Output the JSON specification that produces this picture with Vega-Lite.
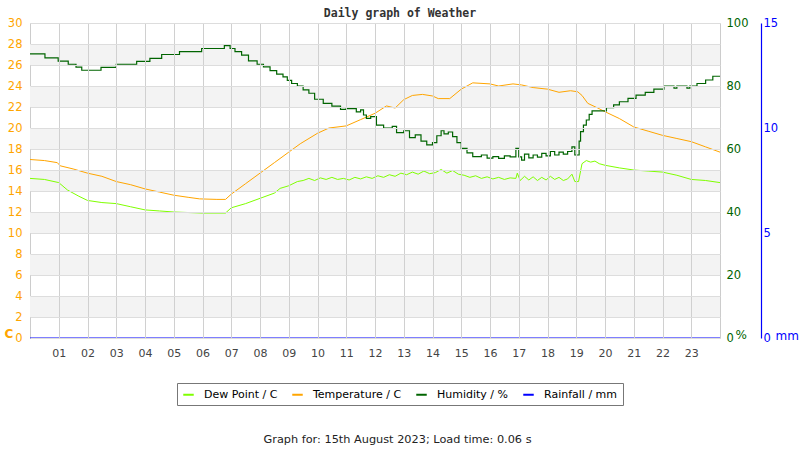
{
  "$schema": "https://vega.github.io/schema/vega-lite/v6.json",
  "width": 690,
  "height": 315,
  "autosize": {"type": "none"},
  "padding": {"left": 30, "top": 23, "right": 80, "bottom": 112},
  "background": "white",
  "title": {
    "text": "Daily graph of Weather",
    "font": "DejaVu Sans Mono",
    "fontSize": 11.5,
    "fontWeight": "bold",
    "color": "#333333",
    "offset": -2,
    "dx": 25,
    "anchor": "middle"
  },
  "datasets": {
    "bands": [
      {"lo": 2, "hi": 4}, {"lo": 6, "hi": 8}, {"lo": 10, "hi": 12}, {"lo": 14, "hi": 16},
      {"lo": 18, "hi": 20}, {"lo": 22, "hi": 24}, {"lo": 26, "hi": 28}
    ],
    "dew": [
      {"h": 0, "v": 15.2}, {"h": 0.5, "v": 15.1}, {"h": 1.0, "v": 14.8}, {"h": 1.3, "v": 14.1},
      {"h": 1.7, "v": 13.5}, {"h": 2.0, "v": 13.1}, {"h": 2.5, "v": 12.9}, {"h": 3.0, "v": 12.8},
      {"h": 3.5, "v": 12.5}, {"h": 4.0, "v": 12.2}, {"h": 4.5, "v": 12.1}, {"h": 5.0, "v": 12.0},
      {"h": 5.5, "v": 11.95}, {"h": 6.0, "v": 11.9}, {"h": 6.8, "v": 11.9}, {"h": 7.0, "v": 12.4},
      {"h": 7.5, "v": 12.8}, {"h": 8.0, "v": 13.3}, {"h": 8.5, "v": 13.8}, {"h": 8.7, "v": 14.25},
      {"h": 9.0, "v": 14.5}, {"h": 9.3, "v": 14.9}, {"h": 9.5, "v": 15.0}, {"h": 9.7, "v": 15.2},
      {"h": 9.9, "v": 15.0}, {"h": 10.1, "v": 15.25}, {"h": 10.3, "v": 15.1}, {"h": 10.5, "v": 15.3},
      {"h": 10.7, "v": 15.1}, {"h": 10.9, "v": 15.2}, {"h": 11.1, "v": 15.05}, {"h": 11.3, "v": 15.3},
      {"h": 11.5, "v": 15.15}, {"h": 11.7, "v": 15.35}, {"h": 11.9, "v": 15.2}, {"h": 12.1, "v": 15.45},
      {"h": 12.3, "v": 15.3}, {"h": 12.5, "v": 15.55}, {"h": 12.7, "v": 15.4}, {"h": 12.9, "v": 15.7},
      {"h": 13.1, "v": 15.55}, {"h": 13.3, "v": 15.8}, {"h": 13.5, "v": 15.6}, {"h": 13.7, "v": 15.9},
      {"h": 13.9, "v": 15.65}, {"h": 14.1, "v": 15.75}, {"h": 14.3, "v": 16.05}, {"h": 14.5, "v": 15.7},
      {"h": 14.7, "v": 15.95}, {"h": 14.9, "v": 15.6}, {"h": 15.1, "v": 15.5}, {"h": 15.3, "v": 15.3},
      {"h": 15.5, "v": 15.45}, {"h": 15.7, "v": 15.2}, {"h": 15.9, "v": 15.35}, {"h": 16.1, "v": 15.15},
      {"h": 16.3, "v": 15.3}, {"h": 16.5, "v": 15.1}, {"h": 16.7, "v": 15.25}, {"h": 16.9, "v": 15.2},
      {"h": 16.95, "v": 15.7}, {"h": 17.05, "v": 15.0}, {"h": 17.2, "v": 15.4}, {"h": 17.35, "v": 15.05},
      {"h": 17.5, "v": 15.35}, {"h": 17.65, "v": 15.0}, {"h": 17.8, "v": 15.3}, {"h": 17.95, "v": 15.05},
      {"h": 18.1, "v": 15.4}, {"h": 18.25, "v": 15.1}, {"h": 18.4, "v": 15.3}, {"h": 18.55, "v": 15.0},
      {"h": 18.7, "v": 15.15}, {"h": 18.85, "v": 15.6}, {"h": 18.95, "v": 14.9}, {"h": 19.08, "v": 14.9},
      {"h": 19.2, "v": 16.6}, {"h": 19.35, "v": 16.9}, {"h": 19.5, "v": 16.75}, {"h": 19.65, "v": 16.85},
      {"h": 19.8, "v": 16.6}, {"h": 20.0, "v": 16.45}, {"h": 20.5, "v": 16.2}, {"h": 21.0, "v": 16.0},
      {"h": 21.5, "v": 15.9}, {"h": 22.0, "v": 15.8}, {"h": 22.5, "v": 15.5}, {"h": 23.0, "v": 15.1},
      {"h": 23.5, "v": 15.0}, {"h": 24.0, "v": 14.8}
    ],
    "temp": [
      {"h": 0, "v": 17.0}, {"h": 0.5, "v": 16.9}, {"h": 0.95, "v": 16.7}, {"h": 1.05, "v": 16.4},
      {"h": 1.5, "v": 16.1}, {"h": 2.0, "v": 15.7}, {"h": 2.5, "v": 15.4}, {"h": 3.0, "v": 14.9},
      {"h": 3.5, "v": 14.6}, {"h": 4.0, "v": 14.2}, {"h": 4.5, "v": 13.9}, {"h": 5.0, "v": 13.6},
      {"h": 5.5, "v": 13.4}, {"h": 5.9, "v": 13.25}, {"h": 6.5, "v": 13.2}, {"h": 6.8, "v": 13.2},
      {"h": 7.0, "v": 13.7}, {"h": 7.5, "v": 14.7}, {"h": 8.0, "v": 15.7}, {"h": 8.5, "v": 16.7},
      {"h": 9.0, "v": 17.7}, {"h": 9.4, "v": 18.5}, {"h": 10.0, "v": 19.5}, {"h": 10.4, "v": 20.0},
      {"h": 11.0, "v": 20.2}, {"h": 11.5, "v": 20.8}, {"h": 12.0, "v": 21.4}, {"h": 12.4, "v": 22.1},
      {"h": 12.7, "v": 21.9}, {"h": 13.0, "v": 22.7}, {"h": 13.3, "v": 23.1}, {"h": 13.65, "v": 23.2},
      {"h": 14.0, "v": 23.05}, {"h": 14.2, "v": 22.8}, {"h": 14.6, "v": 22.8}, {"h": 15.0, "v": 23.7},
      {"h": 15.4, "v": 24.3}, {"h": 16.0, "v": 24.2}, {"h": 16.3, "v": 24.0}, {"h": 16.8, "v": 24.2},
      {"h": 17.1, "v": 24.1}, {"h": 17.5, "v": 23.85}, {"h": 18.0, "v": 23.7}, {"h": 18.4, "v": 23.4},
      {"h": 18.8, "v": 23.55}, {"h": 19.05, "v": 23.45}, {"h": 19.2, "v": 23.1}, {"h": 19.4, "v": 22.35},
      {"h": 19.75, "v": 21.9}, {"h": 20.0, "v": 21.55}, {"h": 20.5, "v": 20.9}, {"h": 21.0, "v": 20.1},
      {"h": 21.5, "v": 19.7}, {"h": 22.0, "v": 19.3}, {"h": 22.5, "v": 19.0}, {"h": 23.0, "v": 18.7},
      {"h": 23.5, "v": 18.2}, {"h": 24.0, "v": 17.7}
    ],
    "hum": [
      {"h": 0, "v": 90.2}, {"h": 0.52, "v": 88.9}, {"h": 0.98, "v": 87.9}, {"h": 1.33, "v": 86.9},
      {"h": 1.6, "v": 86.0}, {"h": 1.8, "v": 85.0}, {"h": 2.47, "v": 85.9}, {"h": 3.0, "v": 86.9},
      {"h": 3.71, "v": 87.8}, {"h": 4.17, "v": 88.8}, {"h": 4.58, "v": 90.0}, {"h": 5.2, "v": 90.9},
      {"h": 5.97, "v": 91.9}, {"h": 6.76, "v": 92.8}, {"h": 6.96, "v": 91.9}, {"h": 7.13, "v": 90.9},
      {"h": 7.36, "v": 89.8}, {"h": 7.6, "v": 88.0}, {"h": 7.9, "v": 86.9}, {"h": 8.12, "v": 86.1},
      {"h": 8.35, "v": 84.9}, {"h": 8.58, "v": 83.8}, {"h": 8.8, "v": 82.9}, {"h": 8.95, "v": 81.8},
      {"h": 9.1, "v": 80.8}, {"h": 9.3, "v": 80.0}, {"h": 9.5, "v": 78.8}, {"h": 9.7, "v": 77.7},
      {"h": 9.9, "v": 75.8}, {"h": 10.2, "v": 74.5}, {"h": 10.5, "v": 73.6}, {"h": 10.8, "v": 72.6},
      {"h": 11.0, "v": 72.8}, {"h": 11.35, "v": 71.8}, {"h": 11.5, "v": 72.4}, {"h": 11.6, "v": 70.8},
      {"h": 11.7, "v": 69.7}, {"h": 11.85, "v": 70.3}, {"h": 12.05, "v": 67.6}, {"h": 12.3, "v": 66.6},
      {"h": 12.6, "v": 67.2}, {"h": 12.75, "v": 65.2}, {"h": 13.0, "v": 65.8}, {"h": 13.2, "v": 63.6},
      {"h": 13.4, "v": 64.5}, {"h": 13.6, "v": 62.5}, {"h": 13.8, "v": 61.3}, {"h": 14.0, "v": 62.0},
      {"h": 14.15, "v": 64.2}, {"h": 14.3, "v": 65.8}, {"h": 14.4, "v": 64.8}, {"h": 14.55, "v": 65.4},
      {"h": 14.7, "v": 63.9}, {"h": 14.85, "v": 62.0}, {"h": 15.0, "v": 60.2}, {"h": 15.2, "v": 58.8},
      {"h": 15.4, "v": 57.6}, {"h": 15.7, "v": 58.1}, {"h": 15.9, "v": 57.1}, {"h": 16.1, "v": 57.6},
      {"h": 16.3, "v": 57.0}, {"h": 16.5, "v": 57.8}, {"h": 16.7, "v": 57.5}, {"h": 16.9, "v": 60.2},
      {"h": 17.0, "v": 57.5}, {"h": 17.1, "v": 56.5}, {"h": 17.2, "v": 58.4}, {"h": 17.35, "v": 57.2},
      {"h": 17.5, "v": 58.1}, {"h": 17.65, "v": 57.4}, {"h": 17.8, "v": 58.6}, {"h": 17.95, "v": 57.8},
      {"h": 18.1, "v": 59.2}, {"h": 18.25, "v": 58.1}, {"h": 18.4, "v": 59.0}, {"h": 18.55, "v": 58.4},
      {"h": 18.7, "v": 59.2}, {"h": 18.85, "v": 60.7}, {"h": 18.95, "v": 58.1}, {"h": 19.1, "v": 62.5},
      {"h": 19.15, "v": 65.5}, {"h": 19.25, "v": 67.6}, {"h": 19.35, "v": 69.2}, {"h": 19.45, "v": 71.0},
      {"h": 19.55, "v": 72.1}, {"h": 20.05, "v": 73.1}, {"h": 20.3, "v": 74.0}, {"h": 20.5, "v": 75.0},
      {"h": 20.8, "v": 76.1}, {"h": 21.08, "v": 77.1}, {"h": 21.4, "v": 78.0}, {"h": 21.7, "v": 79.0},
      {"h": 22.05, "v": 80.0}, {"h": 22.4, "v": 79.3}, {"h": 22.5, "v": 80.0}, {"h": 22.85, "v": 79.3},
      {"h": 22.95, "v": 80.0}, {"h": 23.2, "v": 80.8}, {"h": 23.5, "v": 81.9}, {"h": 23.75, "v": 83.1},
      {"h": 24.0, "v": 83.1}
    ],
    "rain": [
      {"h": 0, "v": 0}, {"h": 1, "v": 0}, {"h": 2, "v": 0}, {"h": 3, "v": 0}, {"h": 4, "v": 0},
      {"h": 5, "v": 0}, {"h": 6, "v": 0}, {"h": 7, "v": 0}, {"h": 8, "v": 0}, {"h": 9, "v": 0},
      {"h": 10, "v": 0}, {"h": 11, "v": 0}, {"h": 12, "v": 0}, {"h": 13, "v": 0}, {"h": 14, "v": 0},
      {"h": 15, "v": 0}, {"h": 16, "v": 0}, {"h": 17, "v": 0}, {"h": 18, "v": 0}, {"h": 19, "v": 0},
      {"h": 20, "v": 0}, {"h": 21, "v": 0}, {"h": 22, "v": 0}, {"h": 23, "v": 0}, {"h": 24, "v": 0}
    ]
  },
  "layer": [
    {
      "data": {"name": "bands"},
      "mark": {"type": "rect", "fill": "#f3f3f3"},
      "encoding": {
        "y": {"field": "lo", "type": "quantitative", "scale": {"domain": [0, 30]}, "axis": null},
        "y2": {"field": "hi"}
      }
    },
    {
      "data": {"name": "dew"},
      "mark": {"type": "line", "strokeWidth": 1},
      "encoding": {
        "x": {
          "field": "h",
          "type": "quantitative",
          "scale": {"domain": [0, 24], "nice": false},
          "axis": {
            "values": [1, 2, 3, 4, 5, 6, 7, 8, 9, 10, 11, 12, 13, 14, 15, 16, 17, 18, 19, 20, 21, 22, 23],
            "format": "02d",
            "grid": true,
            "gridColor": "#d0d0d0",
            "ticks": false,
            "domain": false,
            "labelColor": "#444444",
            "labelFontSize": 11,
            "labelPadding": 9,
            "title": "Graph for: 15th August 2023; Load time: 0.06 s",
            "titleX": 367,
            "titleY": 95,
            "titleFontWeight": "normal",
            "titleFontSize": 11.3,
            "titleColor": "#222222",
            "zindex": 1
          }
        },
        "y": {"field": "v", "type": "quantitative", "scale": {"domain": [0, 30]}, "axis": null},
        "color": {
          "datum": "Dew Point / C",
          "type": "nominal",
          "scale": {
            "domain": ["Dew Point / C", "Temperature / C", "Humidity / %", "Rainfall / mm"],
            "range": ["#7FFF00", "#FFA500", "#006400", "#0000FF"]
          }
        }
      }
    },
    {
      "data": {"name": "temp"},
      "mark": {"type": "line", "strokeWidth": 1},
      "encoding": {
        "x": {
          "field": "h",
          "type": "quantitative",
          "scale": {"domain": [0, 24], "nice": false},
          "axis": {
            "values": [1, 2, 3, 4, 5, 6, 7, 8, 9, 10, 11, 12, 13, 14, 15, 16, 17, 18, 19, 20, 21, 22, 23],
            "format": "02d",
            "grid": true,
            "gridColor": "#d0d0d0",
            "ticks": false,
            "domain": false,
            "labelColor": "#444444",
            "labelFontSize": 11,
            "labelPadding": 9,
            "title": "Graph for: 15th August 2023; Load time: 0.06 s",
            "titleX": 367,
            "titleY": 95,
            "titleFontWeight": "normal",
            "titleFontSize": 11.3,
            "titleColor": "#222222",
            "zindex": 1
          }
        },
        "y": {
          "field": "v",
          "type": "quantitative",
          "scale": {"domain": [0, 30]},
          "axis": {
            "orient": "left",
            "values": [0, 2, 4, 6, 8, 10, 12, 14, 16, 18, 20, 22, 24, 26, 28, 30],
            "grid": true,
            "gridColor": "#dddddd",
            "ticks": false,
            "domain": false,
            "labelColor": "#FFA500",
            "labelFontSize": 11.5,
            "labelPadding": 8,
            "title": "C",
            "titleAngle": 0,
            "titleAlign": "left",
            "titleBaseline": "middle",
            "titleX": -26,
            "titleY": 310,
            "titleColor": "#FFA500",
            "titleFontSize": 12,
            "titleFontWeight": "bold",
            "zindex": 1
          }
        },
        "color": {
          "datum": "Temperature / C",
          "type": "nominal",
          "scale": {
            "domain": ["Dew Point / C", "Temperature / C", "Humidity / %", "Rainfall / mm"],
            "range": ["#7FFF00", "#FFA500", "#006400", "#0000FF"]
          }
        }
      }
    },
    {
      "data": {"name": "hum"},
      "mark": {"type": "line", "strokeWidth": 1.2, "interpolate": "step-after"},
      "encoding": {
        "x": {
          "field": "h",
          "type": "quantitative",
          "scale": {"domain": [0, 24], "nice": false},
          "axis": {
            "values": [1, 2, 3, 4, 5, 6, 7, 8, 9, 10, 11, 12, 13, 14, 15, 16, 17, 18, 19, 20, 21, 22, 23],
            "format": "02d",
            "grid": true,
            "gridColor": "#d0d0d0",
            "ticks": false,
            "domain": false,
            "labelColor": "#444444",
            "labelFontSize": 11,
            "labelPadding": 9,
            "title": "Graph for: 15th August 2023; Load time: 0.06 s",
            "titleX": 367,
            "titleY": 95,
            "titleFontWeight": "normal",
            "titleFontSize": 11.3,
            "titleColor": "#222222",
            "zindex": 1
          }
        },
        "y": {
          "field": "v",
          "type": "quantitative",
          "scale": {"domain": [0, 100]},
          "axis": {
            "orient": "right",
            "values": [0, 20, 40, 60, 80, 100],
            "grid": false,
            "ticks": false,
            "domain": false,
            "labelColor": "#006400",
            "labelFontSize": 11.5,
            "labelPadding": 6,
            "title": "%",
            "titleAngle": 0,
            "titleAlign": "left",
            "titleBaseline": "middle",
            "titleX": 15,
            "titleY": 311,
            "titleColor": "#006400",
            "titleFontSize": 12,
            "titleFontWeight": "normal"
          }
        },
        "color": {
          "datum": "Humidity / %",
          "type": "nominal",
          "scale": {
            "domain": ["Dew Point / C", "Temperature / C", "Humidity / %", "Rainfall / mm"],
            "range": ["#7FFF00", "#FFA500", "#006400", "#0000FF"]
          }
        }
      }
    },
    {
      "data": {"name": "rain"},
      "mark": {"type": "line", "strokeWidth": 1.2},
      "encoding": {
        "x": {
          "field": "h",
          "type": "quantitative",
          "scale": {"domain": [0, 24], "nice": false},
          "axis": {
            "values": [1, 2, 3, 4, 5, 6, 7, 8, 9, 10, 11, 12, 13, 14, 15, 16, 17, 18, 19, 20, 21, 22, 23],
            "format": "02d",
            "grid": true,
            "gridColor": "#d0d0d0",
            "ticks": false,
            "domain": false,
            "labelColor": "#444444",
            "labelFontSize": 11,
            "labelPadding": 9,
            "title": "Graph for: 15th August 2023; Load time: 0.06 s",
            "titleX": 367,
            "titleY": 95,
            "titleFontWeight": "normal",
            "titleFontSize": 11.3,
            "titleColor": "#222222",
            "zindex": 1
          }
        },
        "y": {
          "field": "v",
          "type": "quantitative",
          "scale": {"domain": [0, 15]},
          "axis": {
            "orient": "right",
            "offset": 41,
            "values": [0, 5, 10, 15],
            "grid": false,
            "ticks": false,
            "domain": true,
            "domainColor": "#0000FF",
            "domainWidth": 1.2,
            "labelColor": "#0000FF",
            "labelFontSize": 11.5,
            "labelPadding": 2,
            "title": "mm",
            "titleAngle": 0,
            "titleAlign": "left",
            "titleBaseline": "middle",
            "titleX": 14,
            "titleY": 312,
            "titleColor": "#0000FF",
            "titleFontSize": 12,
            "titleFontWeight": "normal"
          }
        },
        "color": {
          "datum": "Rainfall / mm",
          "type": "nominal",
          "scale": {
            "domain": ["Dew Point / C", "Temperature / C", "Humidity / %", "Rainfall / mm"],
            "range": ["#7FFF00", "#FFA500", "#006400", "#0000FF"]
          }
        }
      }
    }
  ],
  "resolve": {"scale": {"y": "independent"}},
  "config": {
    "font": "DejaVu Sans",
    "view": {"stroke": "#cccccc"},
    "legend": {
      "orient": "none",
      "legendX": 147,
      "legendY": 360,
      "direction": "horizontal",
      "title": null,
      "strokeColor": "#777777",
      "padding": 5,
      "symbolType": "stroke",
      "symbolStrokeWidth": 2,
      "symbolSize": 110,
      "labelFontSize": 11,
      "labelColor": "#000000",
      "labelOffset": 9,
      "columnPadding": 10
    }
  }
}
